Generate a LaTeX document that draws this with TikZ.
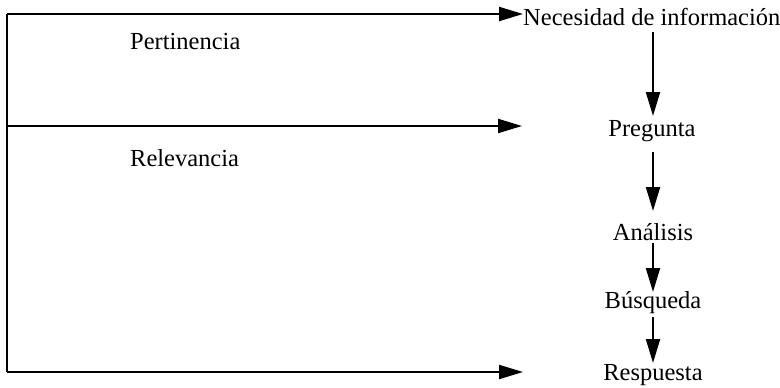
\documentclass[tikz,border=0pt]{standalone}
\usepackage{fontspec}
\setmainfont{Liberation Serif}
\usetikzlibrary{arrows.meta}
\begin{document}
\begin{tikzpicture}[x=1pt,y=-1pt,
  lbl/.style={font=\fontsize{24.5}{28}\selectfont, inner sep=0pt},
  line/.style={line width=2pt},
  arr/.style={line width=2pt,-{Triangle[length=24pt,width=14pt]}}]
\useasboundingbox (0,0) rectangle (780,388);
\node[lbl, anchor=west] (nec) at (523,17) {Necesidad de información};
\node[lbl] (preg) at (652,131) {Pregunta};
\node[lbl] (anal) at (653,232) {Análisis};
\node[lbl] (busq) at (653,303) {Búsqueda};
\node[lbl] (resp) at (653,375) {Respuesta};
\node[lbl, anchor=west] (pert) at (130,42) {Pertinencia};
\node[lbl, anchor=west] (rel) at (130,158) {Relevancia};
\coordinate (tl) at (7,14);
\coordinate (ml) at (7,126);
\coordinate (bl) at (7,372);
\coordinate (me) at (522,126);
\coordinate (be) at (523,372);
\coordinate (a1s) at (653,32);
\coordinate (a1e) at (653,116);
\coordinate (a2s) at (653,152);
\coordinate (a2e) at (653,211);
\coordinate (a3s) at (653,243);
\coordinate (a3e) at (653,292);
\coordinate (a4s) at (653,317);
\coordinate (a4e) at (653,363);
\draw[line] (bl) -- (tl);
\draw[arr] (tl) -- (tl -| nec.west);
\draw[arr] (ml) -- (me);
\draw[arr] (bl) -- (be);
\draw[arr] (a1s) -- (a1e);
\draw[arr] (a2s) -- (a2e);
\draw[arr] (a3s) -- (a3e);
\draw[arr] (a4s) -- (a4e);
\end{tikzpicture}
\end{document}
